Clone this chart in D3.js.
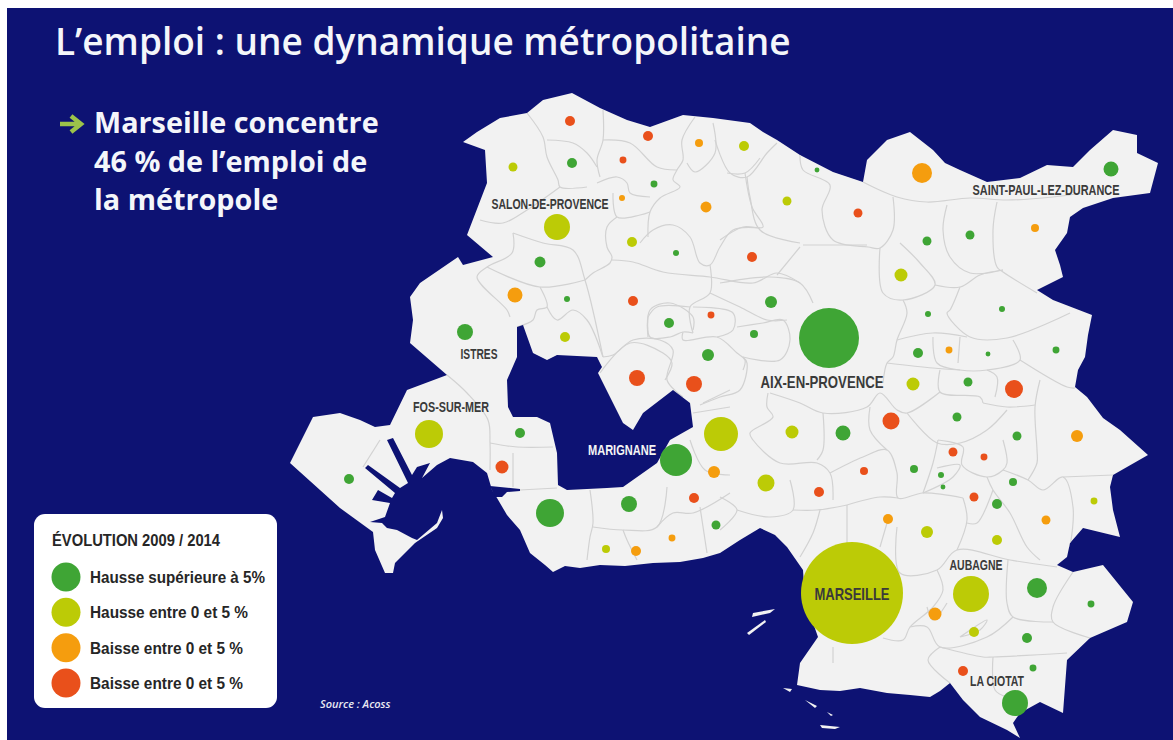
<!DOCTYPE html>
<html>

<head>
    <meta charset="utf-8">
    <title>L'emploi : une dynamique métropolitaine</title>
    <script src="https://d3js.org/d3.v7.min.js"></script>
    <style>
        body { margin: 0; background: #fff; overflow: hidden; }
    </style>
</head>

<body>
    <script type="text/javascript">

        // Categories of the legend
        var categories = ["Hausse supérieure à 5%", "Hausse entre 0 et 5 %", "Baisse entre 0 et 5 %", "Baisse entre 0 et 5 %"];
        var categoryColors = ["#3fa535", "#bccb06", "#f59d0e", "#e9501b"];
        var categoryTextWidth = [175, 158, 153, 153];

        // Communes: map x, map y, relative jobs (area of the bubble), category index
        var communeX = [570, 648, 513, 572, 623, 699, 744, 654, 622, 706, 787, 557, 632, 676, 752, 540, 515, 567, 633, 771, 711, 669, 754, 565, 465, 708,
            637, 694, 721, 429, 520, 676, 502, 714, 349, 694, 629, 550, 716, 672, 606, 636,
            817, 922, 1111, 858, 1035, 927, 970, 901, 928, 1002, 829, 918, 949, 988, 1056, 913, 968, 1014, 792, 843, 891, 957, 1017, 1077,
            953, 984, 864, 914, 941, 943, 1013, 766, 819, 974, 997, 1094, 888, 1046, 927, 997, 852, 971, 1037, 935, 1091, 974, 1027, 963, 1033, 1015];
        var communeY = [121, 136, 167, 163, 160, 143, 146, 184, 198, 207, 201, 227, 242, 253, 257, 262, 295, 299, 301, 302, 315, 323, 334, 337, 332, 355,
            378, 384, 434, 434, 433, 460, 467, 472, 479, 498, 504, 513, 525, 538, 549, 551,
            170, 173, 169, 213, 228, 241, 235, 275, 314, 309, 338, 353, 350, 354, 350, 384, 382, 389, 432, 433, 421, 417, 436, 436,
            452, 457, 471, 469, 475, 487, 482, 483, 492, 497, 504, 501, 519, 520, 532, 540, 593, 594, 588, 614, 604, 632, 638, 671, 668, 703];
        var communeJobs = [25, 25, 20, 25, 12, 16, 25, 12, 9, 30, 20, 169, 25, 9, 25, 30, 56, 9, 25, 36, 12, 25, 16, 25, 64, 36,
            64, 64, 289, 196, 25, 256, 42, 36, 25, 25, 64, 196, 20, 12, 16, 25,
            6, 100, 56, 20, 16, 20, 20, 42, 9, 9, 900, 25, 12, 6, 12, 42, 20, 81, 42, 56, 72, 20, 20, 36,
            20, 12, 16, 16, 9, 6, 16, 72, 25, 20, 25, 12, 25, 20, 36, 25, 2601, 324, 100, 42, 12, 25, 25, 25, 12, 169];
        var communeCategory = [3, 3, 1, 0, 3, 2, 1, 0, 2, 2, 1, 1, 1, 0, 3, 0, 2, 0, 3, 0, 3, 0, 0, 1, 0, 0,
            3, 3, 1, 1, 0, 0, 3, 2, 0, 3, 0, 0, 0, 2, 1, 2,
            0, 2, 0, 3, 2, 0, 0, 1, 0, 0, 0, 0, 2, 0, 0, 1, 0, 3, 1, 0, 3, 0, 0, 2,
            3, 3, 3, 0, 0, 0, 0, 1, 3, 3, 0, 1, 2, 2, 1, 1, 1, 1, 0, 2, 0, 1, 0, 3, 0, 0];

        // Town names and where they sit on the map
        var townNames = ["SALON-DE-PROVENCE", "ISTRES", "FOS-SUR-MER", "MARIGNANE", "AIX-EN-PROVENCE", "MARSEILLE", "AUBAGNE", "LA CIOTAT", "SAINT-PAUL-LEZ-DURANCE"];
        var townX = [550, 479, 451, 622, 822, 852, 976, 997, 1046];
        var townY = [209, 359, 412, 455, 388, 600, 570, 686, 195];
        var townLevel = [15, 15, 15, 15, 17, 17, 15, 15, 15];
        var townTextWidth = [117, 37, 76, 68, 123, 75, 53, 54, 147];

        // Outline of the metropole in map units
        var landOutline = [[463, 142], [477, 132], [500, 118], [527, 113], [543, 100], [572, 93], [600, 108], [627, 120], [650, 127], [683, 115], [713, 118], [750, 123], [763, 132], [777, 140], [800, 155], [833, 172], [863, 182], [867, 160], [887, 140], [910, 132], [933, 150], [945, 163], [960, 170], [987, 182], [1020, 178], [1047, 165], [1073, 167], [1090, 150], [1113, 130], [1137, 135], [1137, 153], [1158, 163], [1150, 193], [1113, 198], [1083, 208], [1070, 217], [1067, 233], [1055, 250], [1060, 265], [1063, 277], [1037, 290], [1053, 300], [1092, 315], [1088, 335], [1085, 357], [1078, 370], [1075, 387], [1087, 397], [1103, 418], [1120, 430], [1148, 455], [1113, 475], [1110, 487], [1113, 510], [1120, 537], [1083, 528], [1070, 543], [1067, 557], [1057, 565], [1073, 572], [1103, 565], [1133, 602], [1127, 622], [1090, 638], [1067, 660], [1063, 713], [1040, 702], [1020, 713], [1013, 723], [1020, 738], [1007, 730], [980, 717], [963, 700], [950, 683], [940, 691], [930, 697], [910, 695], [887, 693], [860, 688], [840, 691], [820, 690], [797, 685], [800, 663], [818, 637], [805, 600], [803, 570], [787, 547], [775, 535], [760, 528], [740, 540], [720, 553], [703, 558], [680, 562], [653, 563], [625, 566], [600, 565], [580, 568], [565, 566], [553, 572], [545, 565], [530, 553], [520, 530], [507, 515], [497, 498], [492, 490], [487, 473], [473, 462], [450, 458], [437, 465], [422, 478], [430, 463], [417, 467], [412, 475], [393, 438], [387, 440], [408, 483], [400, 488], [368, 465], [365, 468], [395, 493], [392, 498], [378, 490], [372, 500], [390, 503], [385, 517], [370, 522], [382, 523], [387, 528], [397, 530], [412, 538], [417, 540], [437, 523], [442, 510], [443, 518], [437, 528], [415, 543], [395, 563], [393, 573], [385, 573], [375, 550], [373, 532], [340, 508], [290, 463], [313, 417], [340, 413], [360, 420], [375, 427], [390, 425], [407, 390], [447, 375], [410, 343], [413, 320], [410, 297], [420, 283], [458, 257], [463, 265], [493, 257], [467, 235], [487, 183], [485, 150]];

        // Etang de Berre and the canal west of it
        var etang = [[517, 327], [523, 325], [533, 353], [547, 360], [557, 355], [597, 357], [602, 367], [598, 373], [623, 423], [633, 430], [643, 413], [673, 390], [690, 403], [693, 427], [670, 440], [657, 463], [623, 487], [607, 488], [567, 490], [558, 485], [557, 453], [550, 423], [537, 417], [513, 417], [508, 407], [507, 380], [517, 357]];
        var canal = [[490, 486], [500, 487], [520, 489], [520, 491], [507, 492], [502, 497], [495, 497]];

        // Islands off Marseille
        var islands = [[[753, 613], [775, 609], [770, 613], [752, 617]], [[747, 633], [765, 620], [766, 622], [749, 635]], [[783, 688], [792, 689], [790, 692]], [[805, 700], [817, 706], [815, 708]], [[827, 712], [833, 715], [831, 716]], [[820, 725], [840, 727], [835, 729], [822, 728]]];

        // Commune borders in map units
        var borders = [
            [[527, 113], [543, 137], [547, 157], [558, 180], [560, 187], [587, 187]],
            [[603, 110], [603, 140], [597, 160], [600, 177]],
            [[547, 140], [573, 143], [587, 153], [597, 167]],
            [[603, 140], [630, 143], [657, 167], [677, 170]],
            [[695, 117], [682, 140], [683, 160], [677, 170], [673, 180], [680, 187], [660, 198], [650, 212], [648, 237]],
            [[713, 123], [715, 153], [695, 172], [687, 163]],
            [[715, 140], [730, 173], [747, 177], [767, 153], [777, 143]],
            [[747, 177], [750, 197], [760, 230], [800, 243]],
            [[760, 228], [733, 230], [720, 247], [710, 265], [700, 263], [690, 237], [673, 225], [653, 230], [640, 243]],
            [[597, 183], [617, 177], [627, 183], [630, 193], [650, 197]],
            [[613, 193], [617, 217], [640, 215], [650, 212]],
            [[617, 217], [607, 227], [607, 247], [612, 257], [610, 263], [593, 273], [585, 280]],
            [[612, 260], [633, 262], [663, 272], [710, 277], [753, 283], [777, 273], [800, 283]],
            [[710, 265], [710, 293], [690, 307], [693, 333]],
            [[480, 220], [503, 223], [527, 210], [560, 187]],
            [[513, 233], [543, 243], [573, 250], [585, 280], [603, 357]],
            [[513, 233], [512, 253], [487, 267], [477, 277], [507, 310], [510, 317]],
            [[487, 267], [540, 287], [585, 280]],
            [[540, 287], [547, 307], [537, 310], [533, 320], [517, 327]],
            [[547, 307], [557, 320], [573, 310], [587, 320], [603, 357]],
            [[648, 317], [650, 337], [670, 337], [683, 332], [693, 333]],
            [[648, 317], [657, 307], [690, 307]],
            [[603, 357], [613, 355], [633, 340], [660, 340], [673, 350], [667, 380], [683, 397]],
            [[683, 332], [683, 340], [717, 337], [737, 353], [745, 360], [743, 370]],
            [[693, 307], [733, 313], [733, 330], [717, 337]],
            [[710, 293], [740, 307], [767, 320], [787, 320]],
            [[745, 173], [752, 207], [763, 227], [743, 227], [720, 240]],
            [[760, 158], [745, 173], [727, 173]],
            [[800, 155], [803, 170], [830, 185], [822, 210], [833, 240], [868, 247], [880, 248], [893, 230], [893, 197]],
            [[863, 182], [897, 197], [927, 202], [970, 198], [1007, 200], [1053, 197], [1083, 193]],
            [[947, 205], [943, 230], [950, 257], [970, 273], [1003, 270]],
            [[997, 202], [993, 230], [997, 267], [1003, 272], [1037, 293]],
            [[880, 248], [883, 293], [903, 300], [935, 285], [920, 263], [900, 243]],
            [[935, 285], [960, 287], [980, 275], [1003, 270]],
            [[960, 287], [950, 310], [947, 313], [970, 337], [1007, 338], [1070, 313]],
            [[903, 300], [907, 313], [897, 340], [893, 357], [887, 363], [883, 383]],
            [[897, 340], [933, 333], [967, 337]],
            [[933, 337], [937, 363], [960, 370], [987, 370], [1020, 360], [1013, 340]],
            [[960, 337], [958, 363]],
            [[887, 363], [933, 368], [960, 370]],
            [[1020, 360], [1067, 387], [1075, 388]],
            [[940, 370], [940, 392], [980, 397], [983, 403]],
            [[987, 370], [997, 377], [995, 397]],
            [[1040, 380], [1035, 407], [1037, 450], [1037, 463], [1028, 480]],
            [[983, 403], [1007, 407], [1035, 405]],
            [[940, 392], [907, 413], [897, 410], [880, 393], [867, 407], [823, 413], [800, 403], [770, 393]],
            [[907, 413], [937, 443], [960, 443], [987, 430], [1007, 410]],
            [[823, 413], [823, 450], [817, 460]],
            [[870, 407], [870, 430], [887, 450]],
            [[768, 393], [767, 407], [773, 417], [750, 433], [753, 440], [780, 463], [817, 463], [830, 473], [833, 500]],
            [[743, 357], [747, 363], [740, 390], [720, 397], [700, 405]],
            [[743, 357], [780, 360], [790, 340], [783, 320], [763, 323], [737, 327]],
            [[720, 283], [770, 277], [800, 283], [813, 303]],
            [[803, 245], [867, 245]],
            [[800, 247], [777, 275]],
            [[830, 473], [863, 457], [887, 450], [897, 473], [898, 498], [923, 493], [963, 498]],
            [[938, 440], [933, 463], [923, 493]],
            [[937, 468], [960, 465], [953, 477], [923, 493]],
            [[938, 440], [963, 447], [962, 465], [987, 477], [1003, 470], [1007, 463], [1003, 440]],
            [[963, 498], [967, 520], [957, 550]],
            [[987, 477], [993, 490], [1010, 513], [1027, 547], [1040, 560]],
            [[1003, 470], [1028, 480], [1043, 490], [1063, 477], [1073, 507], [1070, 547]],
            [[1063, 477], [1113, 475]],
            [[993, 490], [977, 523], [967, 523]],
            [[847, 505], [847, 547]],
            [[847, 505], [880, 497], [898, 498]],
            [[887, 523], [880, 547]],
            [[897, 527], [900, 573], [937, 570], [957, 550], [1010, 560], [1057, 567]],
            [[1008, 560], [1007, 603], [1013, 617], [1053, 622]],
            [[1073, 572], [1053, 607], [1053, 622], [1090, 638]],
            [[937, 570], [943, 590], [933, 607], [910, 627], [903, 640], [883, 638]],
            [[910, 627], [927, 627], [940, 647], [987, 637], [1013, 617]],
            [[940, 647], [928, 660], [950, 683]],
            [[940, 647], [983, 657], [993, 657], [1067, 653]],
            [[993, 657], [995, 690], [1007, 697]],
            [[833, 647], [833, 663]],
            [[737, 510], [770, 517], [793, 510], [790, 480]],
            [[793, 510], [817, 510], [847, 505]],
            [[820, 510], [813, 533], [800, 557]],
            [[720, 497], [737, 510], [720, 530]],
            [[960, 637], [987, 620], [980, 630], [960, 637]],
            [[927, 607], [933, 620], [947, 603]],
            [[447, 375], [467, 393], [488, 420], [490, 443], [490, 470]],
            [[490, 443], [517, 447], [553, 447]],
            [[513, 453], [513, 487]],
            [[520, 490], [557, 488]],
            [[590, 490], [593, 523], [590, 537], [587, 560]],
            [[593, 527], [623, 530], [657, 527], [667, 487]],
            [[623, 530], [627, 540], [637, 560]],
            [[657, 527], [673, 513], [693, 513], [730, 493]],
            [[700, 507], [707, 553]],
            [[693, 413], [730, 407]],
            [[600, 373], [630, 343], [663, 353], [672, 363], [665, 380]],
            [[648, 337], [650, 310], [670, 303], [693, 317], [693, 330]],
            [[730, 390], [703, 403]],
            [[363, 467], [380, 440]],
            [[690, 440], [705, 470], [730, 475]]
        ];

        var width = 1173, height = 740;

        //Map units to page pixels
        var xScale = d3.scaleLinear().domain([0, 1173]).range([0, width]);
        var yScale = d3.scaleLinear().domain([0, 740]).range([0, height]);
        var rScale = d3.scaleSqrt().domain([0, 2601]).range([0, 51]);

        var color = d3.scaleOrdinal().domain([0, 1, 2, 3]).range(categoryColors);

        var ring = d3.line()
            .x(function (d) { return xScale(d[0]); })
            .y(function (d) { return yScale(d[1]); });

        var borderLine = d3.line()
            .x(function (d) { return xScale(d[0]); })
            .y(function (d) { return yScale(d[1]); })
            .curve(d3.curveCatmullRom.alpha(0.5));

        var labelFont = "'Liberation Sans', sans-serif";
        var navy = "#0d1273";

        var svg = d3.select("body").append("svg")
            .attr("width", width)
            .attr("height", height)
            .style("display", "block");

        //Navy panel
        svg.append("rect").attr("x", 7).attr("y", 8).attr("width", width - 7).attr("height", height - 8).attr("fill", navy);

        svg.append("clipPath").attr("id", "landClip")
            .append("path").attr("d", ring(landOutline) + "Z");

        //Land
        svg.append("path").attr("d", ring(landOutline) + "Z").attr("fill", "#f2f2f2");

        svg.selectAll(".island").data(islands).enter().append("path")
            .attr("class", "island")
            .attr("d", function (d) { return ring(d) + "Z"; })
            .attr("fill", "#f2f2f2");

        //Commune borders
        svg.append("g").attr("clip-path", "url(#landClip)")
            .selectAll("path").data(borders).enter().append("path")
            .attr("d", borderLine)
            .attr("fill", "none")
            .attr("stroke", "#d2d2d2")
            .attr("stroke-width", 1.2);

        //Etang on top of the borders
        svg.append("path").attr("d", ring(etang) + "Z").attr("fill", navy);
        svg.append("path").attr("d", ring(canal) + "Z").attr("fill", navy);

        //Bubbles
        svg.append("g").selectAll("circle").data(communeX).enter().append("circle")
            .attr("cx", function (d) { return xScale(d); })
            .attr("cy", function (d, i) { return yScale(communeY[i]); })
            .attr("r", function (d, i) { return rScale(communeJobs[i]); })
            .attr("fill", function (d, i) { return color(communeCategory[i]); });

        //Town labels, squeezed to the condensed look of the original
        svg.append("g").selectAll("text").data(townNames).enter().append("text")
            .attr("x", function (d, i) { return xScale(townX[i]); })
            .attr("y", function (d, i) { return yScale(townY[i]); })
            .attr("text-anchor", "middle")
            .attr("textLength", function (d, i) { return townTextWidth[i]; })
            .attr("lengthAdjust", "spacingAndGlyphs")
            .style("font-family", labelFont)
            .style("font-weight", "bold")
            .style("font-size", function (d, i) { return townLevel[i] + "px"; })
            .style("fill", function (d) { return d == "MARIGNANE" ? "#f4f4f4" : "#3a3a3a"; })
            .text(function (d) { return d; });

        //Title and subtitle
        svg.append("text")
            .attr("x", 55).attr("y", 55)
            .style("font-family", "'Open Sans', sans-serif")
            .style("font-weight", 600)
            .style("font-size", "37px")
            .style("fill", "#f4f6fa")
            .text("L’emploi : une dynamique métropolitaine");

        var subtitle = ["Marseille concentre", "46 % de l’emploi de", "la métropole"];
        svg.append("g").selectAll("text").data(subtitle).enter().append("text")
            .attr("x", 94)
            .attr("y", function (d, i) { return 133 + i * 38.5; })
            .style("font-family", "'Open Sans', sans-serif")
            .style("font-weight", 700)
            .style("font-size", "28.8px")
            .style("fill", "#f4f6fa")
            .text(function (d) { return d; });

        //Green arrow in front of the subtitle
        svg.append("path")
            .attr("d", "M60,124H80M71,116L81,124L71,132")
            .attr("fill", "none")
            .attr("stroke", "#9cc34a")
            .attr("stroke-width", 4.5);

        //Legend
        var legend = svg.append("g");
        legend.append("rect")
            .attr("x", 34).attr("y", 514)
            .attr("width", 243).attr("height", 194)
            .attr("rx", 11)
            .attr("fill", "#ffffff");

        legend.append("text")
            .attr("x", 52).attr("y", 546)
            .attr("textLength", 168)
            .attr("lengthAdjust", "spacingAndGlyphs")
            .style("font-family", labelFont)
            .style("font-weight", "bold")
            .style("font-size", "16px")
            .style("fill", "#262626")
            .text("ÉVOLUTION 2009 / 2014");

        var legendScale = d3.scalePoint().domain([0, 1, 2, 3]).range([577, 683]);

        legend.selectAll("circle").data(categories).enter().append("circle")
            .attr("cx", 66)
            .attr("cy", function (d, i) { return legendScale(i); })
            .attr("r", 14.5)
            .attr("fill", function (d, i) { return color(i); });

        legend.selectAll(".entry").data(categories).enter().append("text")
            .attr("class", "entry")
            .attr("x", 90)
            .attr("y", function (d, i) { return legendScale(i) + 6; })
            .attr("textLength", function (d, i) { return categoryTextWidth[i]; })
            .attr("lengthAdjust", "spacingAndGlyphs")
            .style("font-family", labelFont)
            .style("font-weight", "bold")
            .style("font-size", "17px")
            .style("fill", "#262626")
            .text(function (d) { return d; });

        //Source
        svg.append("text")
            .attr("x", 320).attr("y", 708)
            .style("font-family", "'Open Sans', sans-serif")
            .style("font-style", "italic")
            .style("font-weight", 600)
            .style("font-size", "11px")
            .style("fill", "#e8e8f2")
            .text("Source :  Acoss");

    </script>
</body>

</html>
